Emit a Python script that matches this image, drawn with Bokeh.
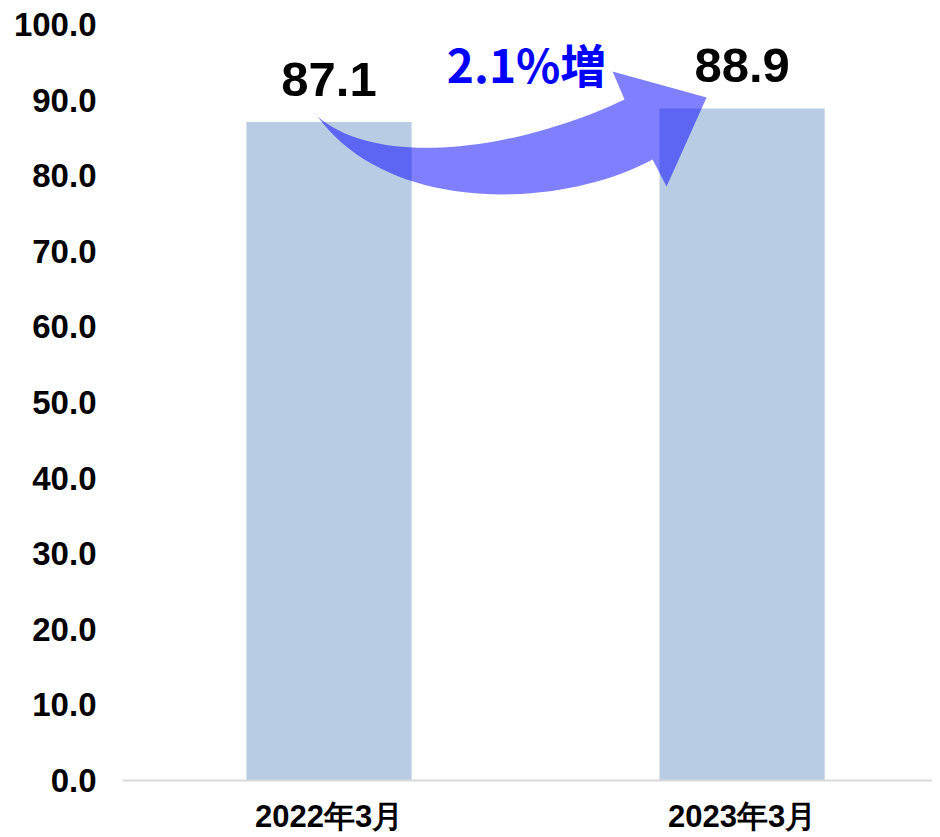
import numpy as np
from bokeh.plotting import figure
from bokeh.models import Range1d, FixedTicker, NumeralTickFormatter, ColumnDataSource
from bokeh.core.properties import value
from bokeh.embed import file_html
from bokeh.resources import INLINE

# ---- data ----
categories = ["2022年3月", "2023年3月"]
values = [87.1, 88.9]
value_labels = ["87.1", "88.9"]
y_ticks = [0, 10, 20, 30, 40, 50, 60, 70, 80, 90, 100]

xs = [i + 0.5 for i in range(len(categories))]
growth = (values[1] / values[0] - 1) * 100
growth_label = f"{growth:.1f}%増"

W, H = 932, 836
p = figure(width=W, height=H, output_backend="svg", toolbar_location=None,
           x_range=Range1d(0, 1.961), y_range=Range1d(0, 100),
           min_border_left=122, min_border_right=0, min_border_top=24,
           min_border_bottom=55)
p.outline_line_color = None
p.xgrid.grid_line_color = None
p.ygrid.grid_line_color = None

src = ColumnDataSource(dict(x=xs, top=values, lab=value_labels))
p.vbar(x="x", top="top", width=0.4, bottom=0, source=src,
       fill_color="#b8cce4", line_color=None)

# axes
p.xaxis.ticker = FixedTicker(ticks=xs)
p.xaxis.major_label_overrides = {x: c for x, c in zip(xs, categories)}
p.xaxis.axis_line_color = "#d9d9d9"
p.xaxis.axis_line_width = 2
p.xaxis.major_tick_line_color = None
p.xaxis.minor_tick_line_color = None
p.xaxis.major_label_standoff = 12
p.xaxis.major_label_text_font = "Liberation Sans"
p.xaxis.major_label_text_font_style = "bold"
p.xaxis.major_label_text_font_size = "31px"
p.xaxis.major_label_text_color = "black"

p.yaxis.ticker = FixedTicker(ticks=y_ticks)
p.yaxis.formatter = NumeralTickFormatter(format="0.0")
p.yaxis.axis_line_color = None
p.yaxis.major_tick_line_color = None
p.yaxis.minor_tick_line_color = None
p.yaxis.major_label_standoff = 20
p.yaxis.major_label_text_font = "Liberation Sans"
p.yaxis.major_label_text_font_style = "bold"
p.yaxis.major_label_text_font_size = "33px"
p.yaxis.major_label_text_color = "black"

# ---- curved arrow decoration (pixel-frame helper -> data units) ----
fx0, fy0, sx, sy = 123.0, 781.0, 413.0, 7.56
def to_data(pts):
    a = np.array(pts, dtype=float)
    return (a[:, 0] - fx0) / sx, (fy0 - a[:, 1]) / sy

def bez(P, n=40):
    P = np.array(P, dtype=float)
    t = np.linspace(0, 1, n)[:, None]
    return ((1 - t) ** 3 * P[0] + 3 * (1 - t) ** 2 * t * P[1]
            + 3 * (1 - t) * t ** 2 * P[2] + t ** 3 * P[3])

upper = bez([(318, 117), (380, 170), (520, 150), (625, 100)])
head = np.array([(613, 72), (707, 98), (667, 187), (653, 160)], dtype=float)
lower = bez([(653, 160), (560, 210), (390, 215), (318, 117)])
shape = np.vstack([upper, head, lower])
ax, ay = to_data(shape)
p.patch(ax, ay, fill_color="#0000ff", fill_alpha=0.5, line_color=None)

# value labels
p.text(x="x", y="top", text="lab", source=src, text_align="center",
       text_baseline="alphabetic", y_offset=-43,
       text_font=value("Liberation Sans"), text_font_style="bold",
       text_font_size="49px", text_color="black")

# growth label
p.text(x=[1.0], y=[values[1]], text=[growth_label], text_align="center",
       text_baseline="alphabetic", x_offset=-9, y_offset=-45,
       text_font=value("Noto Sans CJK JP"), text_font_style="bold",
       text_font_size="46px", text_color="#0000ff")

open("out.html", "w").write(file_html(p, INLINE))
